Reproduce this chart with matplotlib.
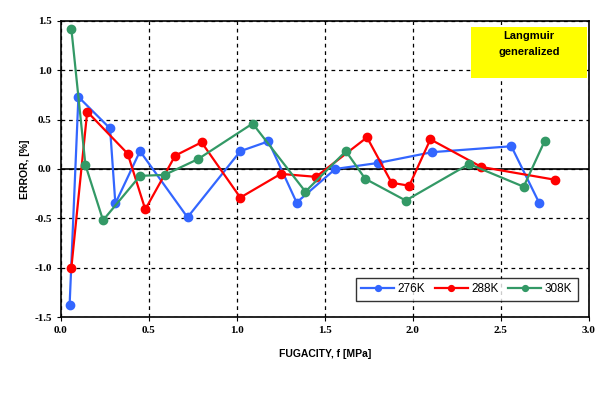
import numpy as np
import matplotlib
matplotlib.use("Agg")
import matplotlib.pyplot as plt
from matplotlib import rcParams
from matplotlib.patches import Rectangle

rcParams['font.family'] = 'Liberation Sans'
rcParams['axes.unicode_minus'] = False

# Error data
f_276 = [0.05, 0.10, 0.28, 0.31, 0.45, 0.72, 1.02, 1.18, 1.34, 1.56, 1.80, 2.11, 2.56, 2.72]
e_276 = [-1.38, 0.73, 0.41, -0.35, 0.18, -0.49, 0.18, 0.28, -0.34, 0.00, 0.06, 0.17, 0.23, -0.35]

f_288 = [0.06, 0.15, 0.38, 0.48, 0.65, 0.80, 1.02, 1.25, 1.45, 1.74, 1.88, 1.98, 2.10, 2.39, 2.81]
e_288 = [-1.00, 0.58, 0.155, -0.41, 0.135, 0.27, -0.29, -0.05, -0.08, 0.32, -0.14, -0.17, 0.30, 0.02, -0.11]

f_308 = [0.06, 0.14, 0.24, 0.45, 0.59, 0.78, 1.09, 1.39, 1.62, 1.73, 1.96, 2.32, 2.63, 2.75]
e_308 = [1.42, 0.04, -0.52, -0.07, -0.06, 0.10, 0.46, -0.23, 0.18, -0.10, -0.32, 0.05, -0.18, 0.285]

fig = plt.figure(figsize=(6.02, 3.98), dpi=100)
ax = fig.add_axes([0.101, 0.2035, 0.877, 0.744])

ax.plot(f_276, e_276, color="#3366FF", marker="o", markersize=6, linewidth=1.6, label="276K")
ax.plot(f_288, e_288, color="#FF0000", marker="o", markersize=6, linewidth=1.6, label="288K")
ax.plot(f_308, e_308, color="#339966", marker="o", markersize=6, linewidth=1.6, label="308K")

ax.axhline(0, color="k", linewidth=1.2, zorder=1)
ax.set_xlim(0, 3.0)
ax.set_ylim(-1.5, 1.5)
ax.set_xticks(np.arange(0, 3.01, 0.5))
ax.set_yticks(np.arange(-1.5, 1.51, 0.5))
ax.grid(True, color="k", linestyle=(0, (3, 3)), linewidth=0.9)
ax.set_axisbelow(True)
for s in ax.spines.values():
    s.set_linewidth(1.2)
ax.tick_params(direction="out", length=3, width=0.8)
for lab in ax.get_xticklabels() + ax.get_yticklabels():
    lab.set_fontfamily("Liberation Serif")
    lab.set_fontweight("bold")
    lab.set_fontsize(8)

ax.set_xlabel("FUGACITY, f [MPa]", fontsize=7.5, fontweight="bold", labelpad=10)
ax.set_ylabel("ERROR, [%]", fontsize=7.5, fontweight="bold", labelpad=3)

leg = ax.legend(loc="lower right", ncol=3, fontsize=8.5, frameon=True, fancybox=False,
                edgecolor="k", handlelength=2.8, handletextpad=0.3, columnspacing=0.8,
                borderpad=0.45, markerscale=0.7, bbox_to_anchor=(0.99, 0.035))
leg.get_frame().set_linewidth(1.0)

# yellow label box
ax.add_patch(Rectangle((2.33, 0.925), 0.66, 0.515, facecolor="#FFFF00", edgecolor="none", zorder=3))
ax.text(2.66, 1.35, "Langmuir", ha="center", va="center", fontsize=8, fontweight="bold", zorder=4)
ax.text(2.66, 1.18, "generalized", ha="center", va="center", fontsize=8, fontweight="bold", zorder=4)

fig.savefig("out.png", dpi=100)
